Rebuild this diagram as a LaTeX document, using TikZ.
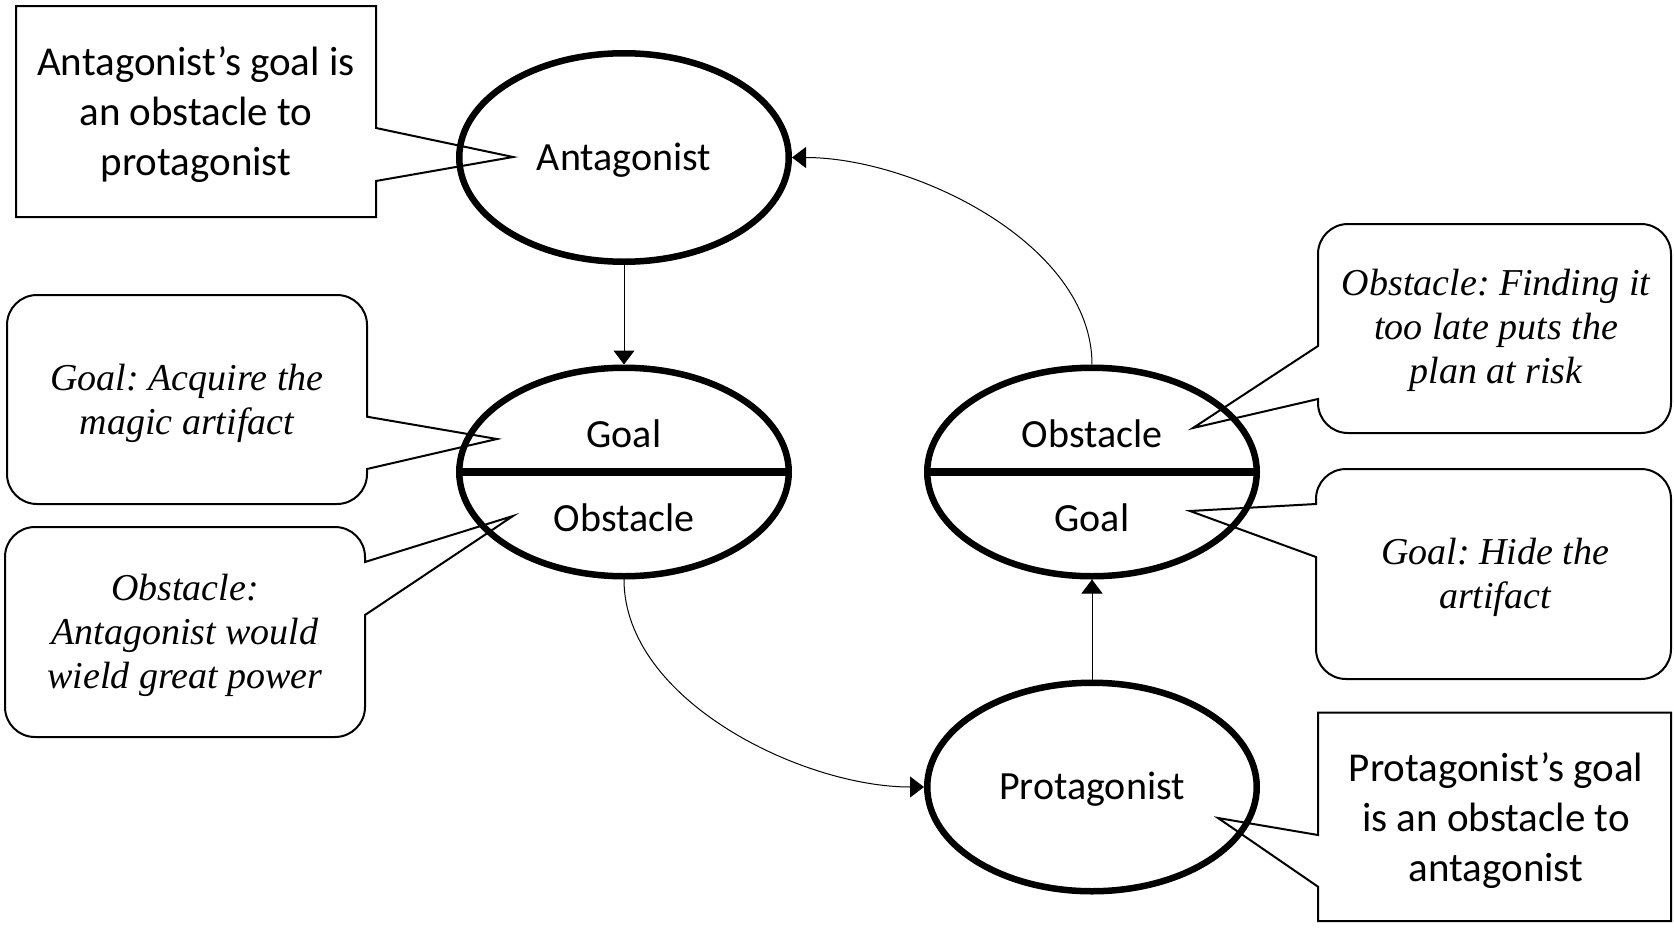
\documentclass[tikz,border=0pt]{standalone}
\usepackage{fontspec}
\newfontfamily\calibri{Carlito}
\newfontfamily\bookit{Liberation Serif}
\usetikzlibrary{arrows.meta,shapes.geometric}
\frenchspacing
\begin{document}
\begin{tikzpicture}[x=1pt,y=1pt,
  oval/.style={ellipse, draw, line width=6.5pt, minimum width=329.5pt,
    minimum height=208.5pt, inner sep=0pt},
  divider/.style={line width=7.5pt},
  ovaltext/.style={font=\calibri\fontsize{40}{48}\selectfont, anchor=base, inner sep=0pt},
  boxtext/.style={font=\calibri\fontsize{41}{50}\selectfont, align=center,
    anchor=base, inner sep=0pt},
  notetext/.style={font=\bookit\itshape\fontsize{38}{44}\selectfont, align=center,
    anchor=base, inner sep=0pt},
  balloon/.style={draw, line width=2pt, line join=miter, fill=white},
  link/.style={line width=1pt, -{Triangle[length=14pt,width=21pt]}}
]
\useasboundingbox (0,0) rectangle (1674,-929);

% --- speech balloons ---
% square balloon, top left
\draw[balloon] (16,-6) -- (376,-6) -- (376,-128) -- (513,-157) -- (376,-181)
  -- (376,-217) -- (16,-217) -- cycle;
% rounded balloon: goal of the antagonist
\draw[balloon] (37,-295) -- (337,-295) arc[start angle=90,end angle=0,radius=30]
  -- (367,-416.7) -- (497,-439) -- (367,-469) -- (367,-474)
  arc[start angle=0,end angle=-90,radius=30] -- (37,-504)
  arc[start angle=270,end angle=180,radius=30] -- (7,-325)
  arc[start angle=180,end angle=90,radius=30] -- cycle;
% rounded balloon: obstacle of the antagonist
\draw[balloon] (35,-527) -- (335,-527) arc[start angle=90,end angle=0,radius=30]
  -- (365,-562) -- (513,-516) -- (365,-615) -- (365,-707)
  arc[start angle=0,end angle=-90,radius=30] -- (35,-737)
  arc[start angle=270,end angle=180,radius=30] -- (5,-557)
  arc[start angle=180,end angle=90,radius=30] -- cycle;
% rounded balloon: obstacle of the protagonist
\draw[balloon] (1348,-224) -- (1641,-224) arc[start angle=90,end angle=0,radius=30]
  -- (1671,-403) arc[start angle=0,end angle=-90,radius=30] -- (1348,-433)
  arc[start angle=270,end angle=180,radius=30] -- (1318,-399) -- (1193,-428)
  -- (1318,-346) -- (1318,-254) arc[start angle=180,end angle=90,radius=30] -- cycle;
% rounded balloon: goal of the protagonist
\draw[balloon] (1346,-469) -- (1641,-469) arc[start angle=90,end angle=0,radius=30]
  -- (1671,-649) arc[start angle=0,end angle=-90,radius=30] -- (1346,-679)
  arc[start angle=270,end angle=180,radius=30] -- (1316,-557) -- (1190,-511)
  -- (1316,-504) -- (1316,-499) arc[start angle=180,end angle=90,radius=30] -- cycle;
% square balloon, bottom right
\draw[balloon] (1318,-712.7) -- (1671,-712.7) -- (1671,-921) -- (1318,-921)
  -- (1318,-886.7) -- (1218,-818) -- (1318,-835) -- cycle;

% --- balloon texts (anchored at the baseline of the last line) ---
\node[boxtext] (antnote) at (196,-175) {Antagonist’s goal is\\an obstacle to\\protagonist};
\node[notetext] (antgoal) at (187,-434) {Goal: Acquire the\\magic artifact};
\node[notetext] (antobst) at (185,-688) {Obstacle:\\Antagonist would\\wield great power};
\node[notetext] (proobst) at (1496,-383) {Obstacle: Finding it\\too late puts the\\plan at risk};
\node[notetext] (progoal) at (1495,-608) {Goal: Hide the\\artifact};
\node[boxtext] (pronote) at (1496,-881.7) {Protagonist’s goal\\is an obstacle to\\antagonist};

% --- characters ---
\node[oval] (ant) at (624,-157.5) {};
\node[oval] (g1) at (624,-472) {};
\node[oval] (g2) at (1092,-472) {};
\node[oval] (pro) at (1092,-787) {};
\draw[divider] (g1.west) -- (g1.east);
\draw[divider] (g2.west) -- (g2.east);

\node[ovaltext] (antname) at ([yshift=-12.5pt]ant.center) {Antagonist};
\node[ovaltext] (g1goal) at ([yshift=25pt]g1.center) {Goal};
\node[ovaltext] (g1obst) at ([yshift=-59pt]g1.center) {Obstacle};
\node[ovaltext] (g2obst) at ([yshift=25pt]g2.center) {Obstacle};
\node[ovaltext] (g2goal) at ([yshift=-59pt]g2.center) {Goal};
\node[ovaltext] (proname) at ([yshift=-12.5pt]pro.center) {Protagonist};

% --- connectors ---
\draw[link] (ant.south) -- (g1.north);
\draw[link] (g1.south) to[out=-90,in=180,looseness=0.85] (pro.west);
\draw[link] (pro.north) -- (g2.south);
\draw[link] (g2.north) to[out=90,in=0,looseness=0.85] (ant.east);
\end{tikzpicture}
\end{document}
